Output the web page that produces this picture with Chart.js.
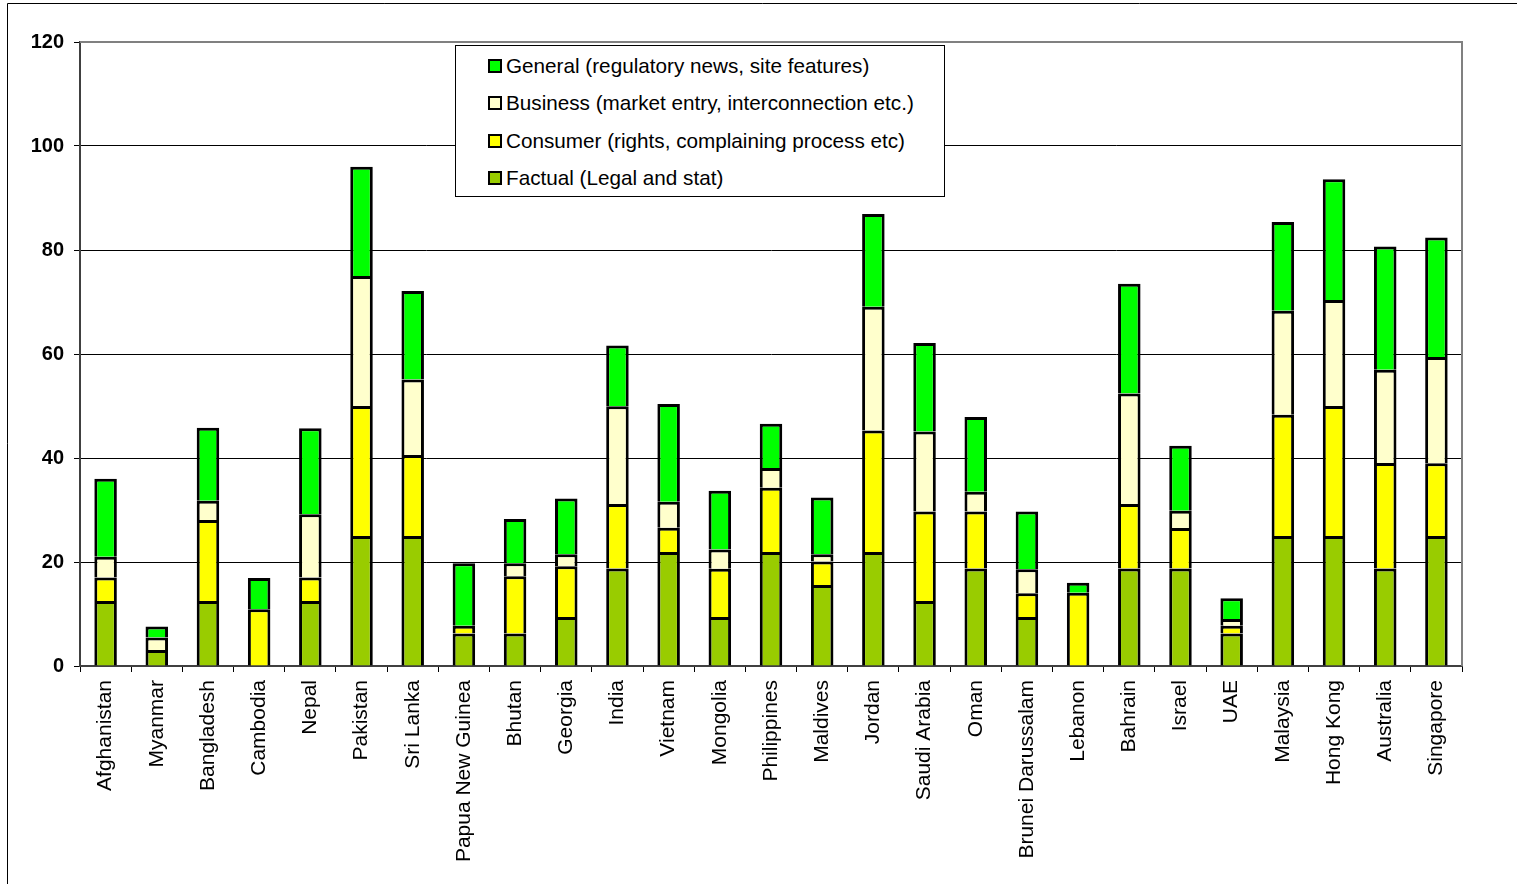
<!DOCTYPE html>
<html>
<head>
<meta charset="utf-8">
<title>Regulator website content by country</title>
<script src="https://cdn.jsdelivr.net/npm/chart.js@4.4.0/dist/chart.umd.min.js"></script>
<style>
    body { margin: 0; background: #fff; font-family: "Liberation Sans", Arial, sans-serif; }
    #wrap { position: relative; width: 1517px; height: 884px; }
    #legend {
        position: absolute; left: 455px; top: 45px; width: 490px; height: 152px;
        background: #fff; border: 1px solid #000; box-sizing: border-box;
        padding: 1px 0 0 32px;
    }
    .legend-item { display: flex; align-items: center; height: 37.5px; font-size: 20.7px; color: #000; }
    .legend-box { width: 10px; height: 10px; border: 2px solid #000; margin-right: 4px; }
</style>
</head>
<body>
<div id="wrap">
    <canvas id="contentChart"></canvas>
    <div id="legend"></div>
</div>
<script>
// Countries along the x axis
const countries = ['Afghanistan', 'Myanmar', 'Bangladesh', 'Cambodia', 'Nepal', 'Pakistan', 'Sri Lanka',
    'Papua New Guinea', 'Bhutan', 'Georgia', 'India', 'Vietnam', 'Mongolia', 'Philippines', 'Maldives',
    'Jordan', 'Saudi Arabia', 'Oman', 'Brunei Darussalam', 'Lebanon', 'Bahrain', 'Israel', 'UAE',
    'Malaysia', 'Hong Kong', 'Australia', 'Singapore'];

// Scores per content type (stacked bottom to top)
const factual  = [12.5, 3.1, 12.5, 0, 12.5, 25, 25, 6.25, 6.25, 9.4, 18.75, 21.9, 9.4, 21.9, 15.6,
    21.9, 12.5, 18.75, 9.4, 0, 18.75, 18.75, 6.25, 25, 25, 18.75, 25];
const consumer = [4.5, 0, 15.6, 10.9, 4.5, 25, 15.6, 1.5, 11, 9.8, 12.4, 4.7, 9.3, 12.4, 4.5,
    23.4, 17.2, 10.95, 4.6, 14.1, 12.4, 7.8, 1.5, 23.3, 25, 20.3, 14];
const business = [4, 2.4, 3.7, 0, 12.2, 25, 14.5, 0, 2.5, 2.3, 18.8, 5, 3.7, 3.8, 1.4,
    23.8, 15.4, 3.8, 4.6, 0, 21.25, 3.3, 1.3, 20, 20.4, 17.9, 20.4];
const general  = [15, 2.1, 14, 6, 16.5, 21, 17, 12, 8.5, 10.7, 11.7, 18.8, 11.3, 8.5, 10.9,
    17.8, 17, 14.4, 11.1, 1.9, 21.1, 12.5, 4, 17.1, 23.2, 23.7, 23];

const yTicks = [0, 20, 40, 60, 80, 100, 120];

const fontFamily = '"Liberation Sans", Arial, sans-serif';

function makeSeries(label, data, color) {
    return {
        label: label,
        data: data,
        backgroundColor: color,
        borderColor: '#000',
        borderWidth: 3,
        categoryPercentage: 1.0,
        barPercentage: 0.44
    };
}

// Grey frame round the plot area plus the outer chart border
const framePlugin = {
    id: 'frame',
    afterDraw(chart) {
        const { ctx, chartArea } = chart;
        ctx.save();
        ctx.strokeStyle = '#808080';
        ctx.lineWidth = 2;
        ctx.beginPath();
        ctx.moveTo(chartArea.left, chartArea.top);
        ctx.lineTo(chartArea.right, chartArea.top);
        ctx.lineTo(chartArea.right, chartArea.bottom);
        ctx.stroke();
        ctx.strokeStyle = '#000';
        ctx.lineWidth = 1;
        ctx.beginPath();
        ctx.moveTo(7.5, 884);
        ctx.lineTo(7.5, 3.5);
        ctx.lineTo(1517, 3.5);
        ctx.stroke();
        ctx.restore();
    }
};

const chart = new Chart(document.getElementById('contentChart'), {
    type: 'bar',
    data: {
        labels: countries,
        datasets: [
            makeSeries('Factual (Legal and stat)', factual, '#99CC00'),
            makeSeries('Consumer (rights, complaining process etc)', consumer, '#FFFF00'),
            makeSeries('Business (market entry, interconnection etc.)', business, '#FFFFCC'),
            makeSeries('General (regulatory news, site features)', general, '#00FF00')
        ]
    },
    options: {
        responsive: true,
        maintainAspectRatio: false,
        animation: false,
        layout: { padding: { top: 42, right: 55, left: 0, bottom: 0 } },
        plugins: {
            legend: { display: false },
            tooltip: { enabled: false }
        },
        scales: {
            x: {
                stacked: true,
                afterFit(axis) { axis.height = 218; },
                grid: {
                    drawOnChartArea: false,
                    drawTicks: true,
                    tickLength: 6,
                    color: '#000',
                    offset: true
                },
                border: { color: '#404040', width: 2 },
                ticks: {
                    minRotation: 90,
                    maxRotation: 90,
                    autoSkip: false,
                    padding: 8,
                    color: '#000',
                    font: { family: fontFamily, size: 21 }
                }
            },
            y: {
                stacked: true,
                min: 0,
                max: 120,
                afterFit(axis) { axis.width = 80; },
                afterBuildTicks(axis) {
                    axis.ticks = yTicks.map(v => ({ value: v }));
                },
                grid: {
                    color: '#000',
                    lineWidth: 1,
                    tickLength: 6
                },
                border: { color: '#404040', width: 2 },
                ticks: {
                    padding: 10,
                    color: '#000',
                    font: { family: fontFamily, size: 20, weight: 'bold' }
                }
            }
        }
    },
    plugins: [framePlugin]
});

// Legend lists the series top of stack first
const legendEl = document.getElementById('legend');
chart.data.datasets.slice().reverse().forEach(ds => {
    const item = document.createElement('div');
    item.className = 'legend-item';
    item.innerHTML = `<span class="legend-box" style="background:${ds.backgroundColor}"></span>${ds.label}`;
    legendEl.appendChild(item);
});
</script>
</body>
</html>
